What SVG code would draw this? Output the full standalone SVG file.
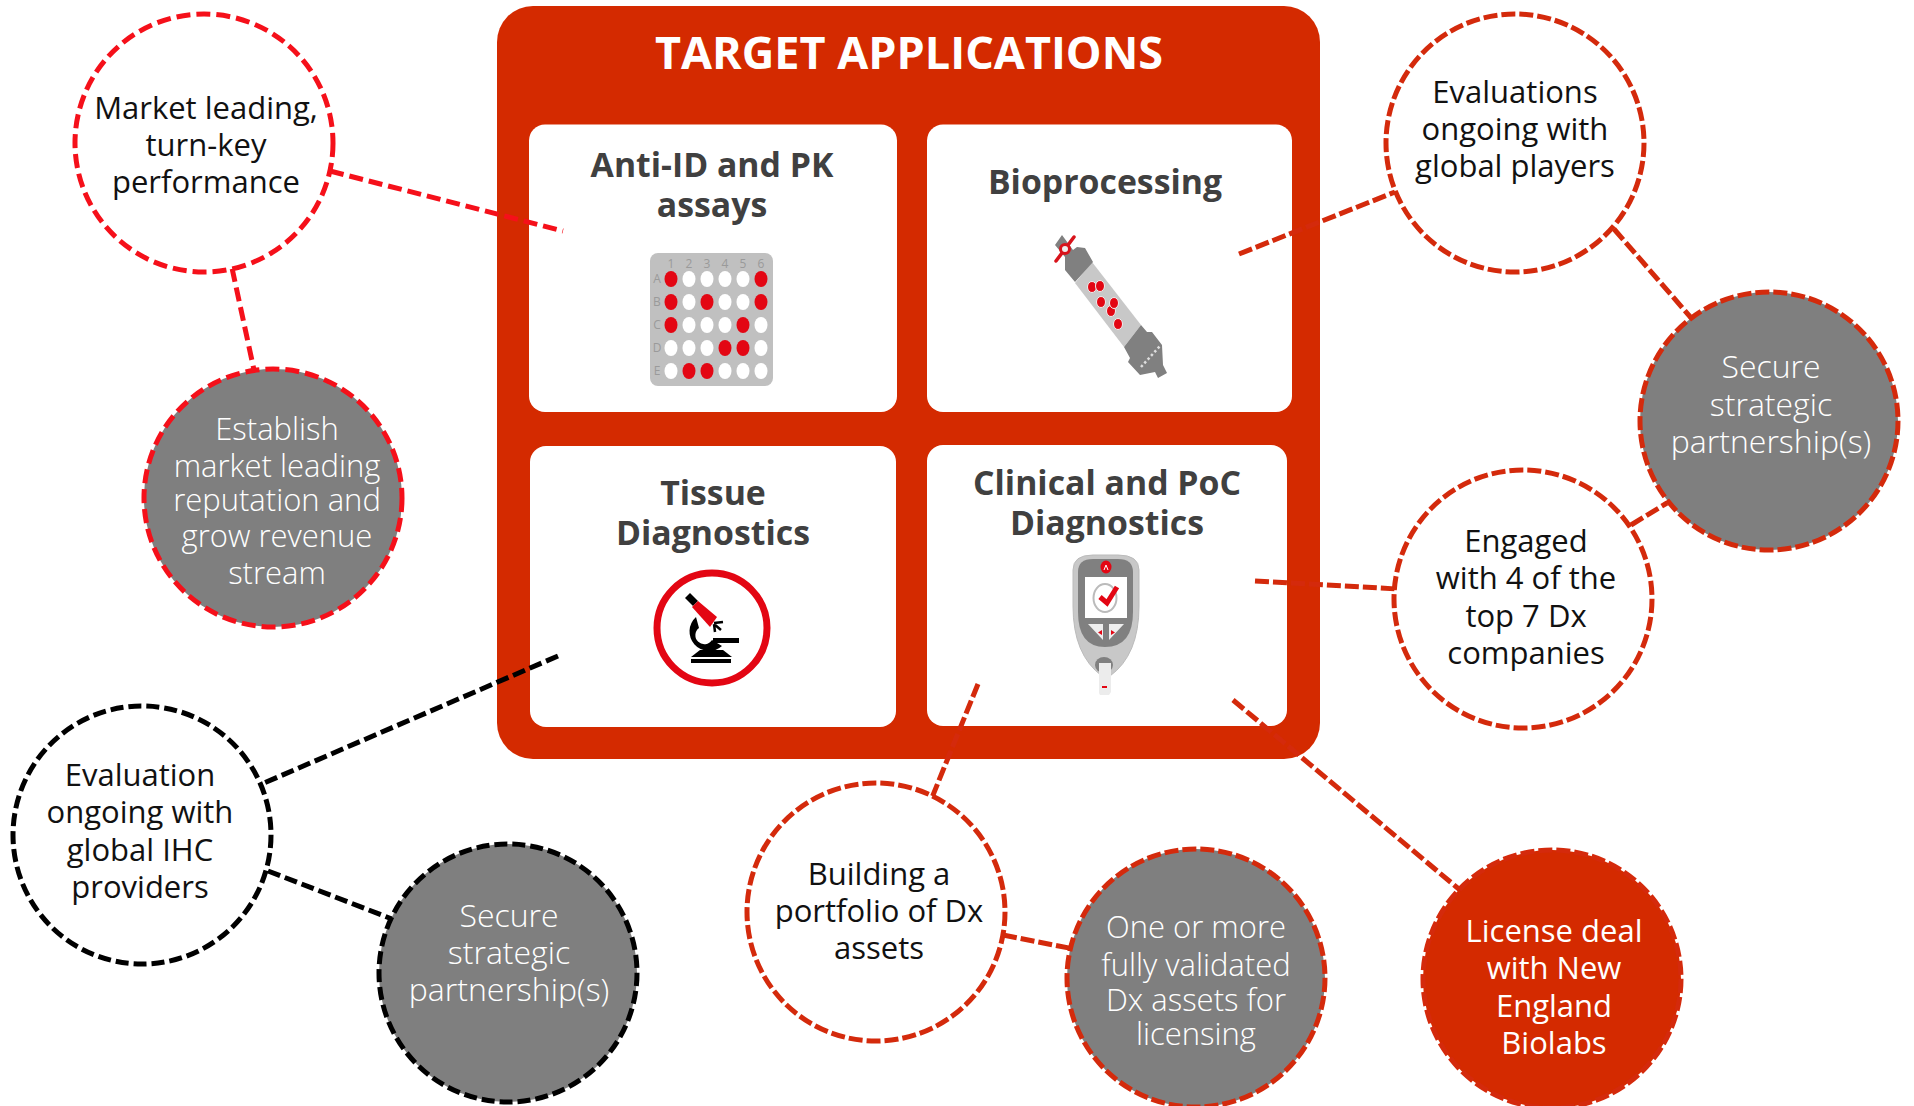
<svg xmlns="http://www.w3.org/2000/svg" width="1914" height="1106" viewBox="0 0 1914 1106">
<style>
text{font-family:"Open Sans","Noto Sans","Liberation Sans",sans-serif;text-anchor:middle;transform:translateY(-1px)}
.t{font-size:31px;fill:#111}
.w{font-size:31px;fill:#fff;font-weight:300}
.s{font-size:32px}
.h{font-size:33.8px;font-weight:700;fill:#404040}
.lb{font-size:12px;fill:#9a9a9a}
.ln{fill:none;stroke-width:5}
.r{stroke:#f5101a;stroke-dasharray:14 6}.d{stroke:#d42a0c;stroke-dasharray:14 4}.k{stroke:#000;stroke-dasharray:13 5}
.c{stroke-width:5}
.card{fill:#fff}
</style>
<rect width="1914" height="1106" fill="#fff"/>
<g id="panel">
<rect x="497" y="6" width="823" height="753" rx="36" fill="#d42a00"/>
<text x="909" y="70" style="font-size:45px;font-weight:700;fill:#fff">TARGET APPLICATIONS</text>
</g>
<g id="card-anti"><rect class="card" x="529" y="124.500" width="368" height="287.500" rx="16"/>
<text class="h" x="712" y="178">Anti-ID and PK</text><text class="h" x="712" y="218">assays</text>
<rect x="650" y="253" width="123" height="133" rx="8" fill="#c0c0c0"/>
<text class="lb" x="671" y="269">1</text><text class="lb" x="689" y="269">2</text><text class="lb" x="707" y="269">3</text><text class="lb" x="725" y="269">4</text><text class="lb" x="743" y="269">5</text><text class="lb" x="761" y="269">6</text>
<text class="lb" x="657" y="284">A</text><text class="lb" x="657" y="307">B</text><text class="lb" x="657" y="330">C</text><text class="lb" x="657" y="353">D</text><text class="lb" x="657" y="376">E</text>
<g fill="#fff"><ellipse cx="689" cy="279" rx="6.500" ry="8"/><ellipse cx="707" cy="279" rx="6.500" ry="8"/><ellipse cx="725" cy="279" rx="6.500" ry="8"/><ellipse cx="743" cy="279" rx="6.500" ry="8"/><ellipse cx="689" cy="302" rx="6.500" ry="8"/><ellipse cx="725" cy="302" rx="6.500" ry="8"/><ellipse cx="743" cy="302" rx="6.500" ry="8"/><ellipse cx="689" cy="325" rx="6.500" ry="8"/><ellipse cx="707" cy="325" rx="6.500" ry="8"/><ellipse cx="725" cy="325" rx="6.500" ry="8"/><ellipse cx="761" cy="325" rx="6.500" ry="8"/><ellipse cx="671" cy="348" rx="6.500" ry="8"/><ellipse cx="689" cy="348" rx="6.500" ry="8"/><ellipse cx="707" cy="348" rx="6.500" ry="8"/><ellipse cx="761" cy="348" rx="6.500" ry="8"/><ellipse cx="671" cy="371" rx="6.500" ry="8"/><ellipse cx="725" cy="371" rx="6.500" ry="8"/><ellipse cx="743" cy="371" rx="6.500" ry="8"/><ellipse cx="761" cy="371" rx="6.500" ry="8"/></g>
<g fill="#e30613"><ellipse cx="671" cy="279" rx="6.500" ry="8"/><ellipse cx="761" cy="279" rx="6.500" ry="8"/><ellipse cx="671" cy="302" rx="6.500" ry="8"/><ellipse cx="707" cy="302" rx="6.500" ry="8"/><ellipse cx="761" cy="302" rx="6.500" ry="8"/><ellipse cx="671" cy="325" rx="6.500" ry="8"/><ellipse cx="743" cy="325" rx="6.500" ry="8"/><ellipse cx="725" cy="348" rx="6.500" ry="8"/><ellipse cx="743" cy="348" rx="6.500" ry="8"/><ellipse cx="689" cy="371" rx="6.500" ry="8"/><ellipse cx="707" cy="371" rx="6.500" ry="8"/></g>
</g>
<g id="card-bio"><rect class="card" x="927" y="124.500" width="365" height="287.500" rx="16"/>
<text class="h" x="1105" y="195">Bioprocessing</text>
<path d="M1092 262L1075 283L1124 347L1141 325Z" fill="#c8c8c8"/>
<path d="M1062 235L1055 245L1065 257L1065 270L1075 282L1093 262L1085 248L1077 247L1073 250Z" fill="#808080"/>
<path d="M1141 325L1124 347L1130 358L1128 362L1140 375L1155 372L1158 378L1167 373L1163 365L1162 345L1152 332L1147 332Z" fill="#808080"/>
<path d="M1141 367L1160 346" stroke="#ddd" stroke-width="2.500" stroke-dasharray="2.500 2.500" fill="none"/>
<path d="M1056 261L1074 237" stroke="#d8131b" stroke-width="3.500" stroke-linecap="round"/>
<circle cx="1065" cy="249" r="4.500" fill="#eee" stroke="#d8131b" stroke-width="3"/>
<g fill="#e30613" stroke="#eee"><ellipse cx="1092" cy="287" rx="4.500" ry="5.500"/><ellipse cx="1100" cy="286" rx="4.500" ry="5.500"/><ellipse cx="1101" cy="302" rx="4.500" ry="5.500"/><ellipse cx="1111" cy="311" rx="4.500" ry="5.500"/><ellipse cx="1114" cy="303" rx="4.500" ry="5.500"/><ellipse cx="1118" cy="324" rx="4.500" ry="5.500"/></g>
</g>
<g id="card-tissue"><rect class="card" x="530" y="446" width="366" height="281" rx="16"/>
<text class="h" x="713" y="506">Tissue</text><text class="h" x="713" y="546">Diagnostics</text>
<circle cx="712" cy="628" r="55" fill="#fff" stroke="#e30613" stroke-width="7"/>
<path d="M685 598L690 593L698 601L693 606Z" fill="#000"/><path d="M692 607L698 601L717 617L710 627Z" fill="#e30613"/>
<path d="M696 617A18 18 0 1 0 722 646L712 640A9 9 0 1 1 699 628Z" fill="#000"/>
<path d="M700 650H723L732 657H691Z" fill="#000"/><rect x="691" y="659" width="40" height="4" fill="#000"/><rect x="713" y="638" width="26" height="5" fill="#000"/>
<path d="M714 623L723 622M714 624L721 630M714 624L715 632" stroke="#000" stroke-width="2.500" fill="none"/>
</g>
<g id="card-clinical"><rect class="card" x="927" y="445" width="360" height="281" rx="16"/>
<text class="h" x="1107" y="496">Clinical and PoC</text><text class="h" x="1107" y="536">Diagnostics</text>
<path d="M1073 570Q1073 555 1093 555H1118Q1139 555 1139 570V606Q1139 655 1110 676H1102Q1073 655 1073 606Z" fill="#c8c8c8" stroke="#bbb"/>
<path d="M1078 572Q1078 559 1093 559H1118Q1133 559 1133 572V612Q1133 647 1105 647Q1078 647 1078 612Z" fill="#808080"/>
<ellipse cx="1106" cy="567" rx="5.500" ry="6.500" fill="#e30613"/><path d="M1104 570l2-5 2 5" fill="none" stroke="#fff"/>
<rect x="1085" y="577" width="42" height="41" fill="#fff"/>
<ellipse cx="1105" cy="598" rx="11.500" ry="14" fill="none" stroke="#bbb" stroke-width="2"/>
<path d="M1100 597L1107 603L1117 587" fill="none" stroke="#e30613" stroke-width="5"/>
<path d="M1088 624H1103V640ZM1109 624H1124L1109 640Z" fill="#eee"/>
<path d="M1102 630l-4 2.500 4 2.500zM1111 630l4 2.500-4 2.500z" fill="#e30613"/>
<ellipse cx="1104" cy="665" rx="9" ry="8" fill="#808080"/>
<path d="M1099 663H1111V692L1109 695H1100L1099 693Z" fill="#ececec"/><rect x="1102" y="686" width="5" height="2" fill="#e30613"/>
</g>
<g id="connectors">
<path class="ln r" d="M330 171L563 231"/>
<path class="ln r" d="M232 268L254 370"/>
<path class="ln d" d="M1239 254L1395 192"/>
<path class="ln d" d="M1614 229L1693 320"/>
<path class="ln d" d="M1631 525L1667 503"/>
<path class="ln d" d="M1255 581L1397 589"/>
<path class="ln k" d="M558 656L264 783"/>
<path class="ln k" d="M268 871L392 919"/>
<path class="ln d" d="M978 684L931 800"/>
<path class="ln d" d="M1003 935L1074 949"/>
<path class="ln d" d="M1233 700L1460 890"/>
</g>
<g id="n-market"><circle class="c r" cx="204" cy="143" r="129" fill="#fff"/><text class="t" x="206" y="120">Market leading,</text><text class="t" x="206" y="157">turn-key</text><text class="t" x="206" y="194">performance</text></g>
<g id="n-establish"><circle class="c r" cx="273" cy="498" r="129" fill="#7f7f7f"/><text class="w" x="277" y="441">Establish</text><text class="w" x="277" y="478">market leading</text><text class="w" x="277" y="512">reputation and</text><text class="w" x="277" y="548">grow revenue</text><text class="w" x="277" y="585">stream</text></g>
<g id="n-ihc"><circle class="c k" cx="142" cy="835" r="129" fill="#fff"/><text class="t" x="140" y="787">Evaluation</text><text class="t" x="140" y="824">ongoing with</text><text class="t" x="140" y="862">global IHC</text><text class="t" x="140" y="899">providers</text></g>
<g id="n-secure-k"><circle class="c k" cx="508" cy="973" r="129" fill="#7f7f7f"/><text class="w s" x="509" y="928">Secure</text><text class="w s" x="509" y="965">strategic</text><text class="w s" x="509" y="1002">partnership(s)</text></g>
<g id="n-building"><circle class="c d" cx="876" cy="912" r="129" fill="#fff"/><text class="t" x="879" y="886">Building a</text><text class="t" x="879" y="923">portfolio of Dx</text><text class="t" x="879" y="960">assets</text></g>
<g id="n-fully"><circle class="c d" cx="1196" cy="978" r="129" fill="#7f7f7f"/><text class="w" x="1196" y="939">One or more</text><text class="w" x="1196" y="977">fully validated</text><text class="w" x="1196" y="1012">Dx assets for</text><text class="w" x="1196" y="1046">licensing</text></g>
<g id="n-license"><circle class="c d" cx="1552" cy="979" r="129" fill="#d42a00"/><text x="1554" y="943" style="font-size:31px;fill:#fff">License deal</text><text x="1554" y="980" style="font-size:31px;fill:#fff">with New</text><text x="1554" y="1018" style="font-size:31px;fill:#fff">England</text><text x="1554" y="1055" style="font-size:31px;fill:#fff">Biolabs</text></g>
<g id="n-engaged"><circle class="c d" cx="1523" cy="599" r="129" fill="#fff"/><text class="t" x="1526" y="553">Engaged</text><text class="t" x="1526" y="590">with 4 of the</text><text class="t" x="1526" y="628">top 7 Dx</text><text class="t" x="1526" y="665">companies</text></g>
<g id="n-secure-r"><circle class="c d" cx="1769" cy="421" r="129" fill="#7f7f7f"/><text class="w s" x="1771" y="379">Secure</text><text class="w s" x="1771" y="417">strategic</text><text class="w s" x="1771" y="454">partnership(s)</text></g>
<g id="n-evals"><circle class="c d" cx="1515" cy="143" r="129" fill="#fff"/><text class="t" x="1515" y="104">Evaluations</text><text class="t" x="1515" y="141">ongoing with</text><text class="t" x="1515" y="178">global players</text></g>
</svg>
